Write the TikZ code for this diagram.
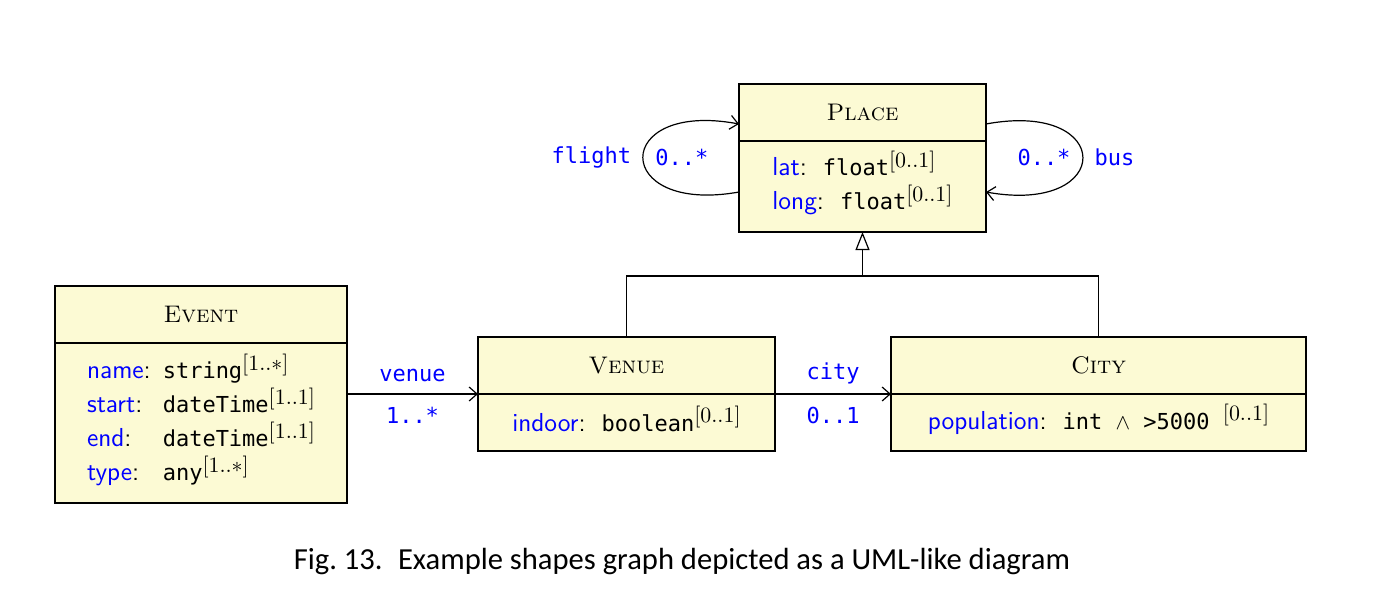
\documentclass[tikz,border=0pt]{standalone}
\usepackage{amsmath}
\usepackage{amssymb}
\usepackage{fontspec}
\setmonofont{DejaVu Sans Mono}
\newfontfamily\capfont{Carlito}
\usepackage{xcolor}
\usetikzlibrary{arrows.meta,positioning}
\definecolor{umlyellow}{RGB}{252,250,212}
\tikzstyle{arr}=[-{Straight Barb[length=4pt,width=7pt]}]
\tikzstyle{gen}=[-{Triangle[open,length=9pt,width=7pt,fill=white]}]
\tikzstyle{classhead}=[draw,fill=umlyellow,inner sep=0pt,outer sep=0pt,
  minimum height=28.5pt,font=\fontsize{12}{14}\selectfont]
\tikzstyle{classbody}=[draw,fill=umlyellow,inner sep=0pt,outer sep=0pt,
  align=left,font=\fontsize{11}{17}\selectfont]
\tikzstyle{role}=[text=blue,font=\ttfamily\fontsize{11}{13}\selectfont]
\newcommand\attr[1]{{\sffamily\fontsize{13}{17}\selectfont\textcolor{blue}{#1}:}}
\newcommand\dtype[1]{\texttt{#1}}
\newcommand\mult[1]{\raisebox{4.3pt}[0pt][0pt]{\fontsize{11.2}{12}\selectfont$[#1]$}}
\newcommand\gap{\hspace{8pt}}

\begin{document}
\begin{tikzpicture}[x=0.5pt,y=-0.5pt,semithick]
\useasboundingbox (0,0) rectangle (1376,607);
% classes
\node[classhead,minimum width=123.5pt,anchor=north west] (placehead)
  at (739,84) {\textsc{Place}};
\node[classbody,minimum width=123.5pt,minimum height=45.5pt,
  below=0pt of placehead] (placebody)
  {\attr{lat}\gap\dtype{float}\mult{0..1}\\
   \attr{long}\gap\dtype{float}\mult{0..1}};
\node[classhead,minimum width=146pt,anchor=north west] (eventhead)
  at (55,286) {\textsc{Event}};
\node[classbody,minimum width=146pt,minimum height=80pt,
  below=0pt of eventhead] (eventbody)
  {\begin{tabular}{@{}l@{\hspace{6pt}}l@{}}
   \attr{name}  & \dtype{string}\mult{1..*}\\
   \attr{start} & \dtype{dateTime}\mult{1..1}\\
   \attr{end}   & \dtype{dateTime}\mult{1..1}\\
   \attr{type}  & \dtype{any}\mult{1..*}
   \end{tabular}};
\node[classhead,minimum width=148.5pt,anchor=north west] (venuehead)
  at (478,337) {\textsc{Venue}};
\node[classbody,minimum width=148.5pt,minimum height=28.5pt,
  below=0pt of venuehead] (venuebody)
  {\attr{indoor}\gap\dtype{boolean}\mult{0..1}};
\node[classhead,minimum width=207.5pt,anchor=north west] (cityhead)
  at (891,337) {\textsc{City}};
\node[classbody,minimum width=207.5pt,minimum height=28.5pt,
  below=0pt of cityhead] (citybody)
  {\attr{population}\gap\dtype{int $\wedge$ >5000\ }\mult{0..1}};
% associations
\draw[arr] (eventbody.north east |- venuehead.south west)
  -- node[role,above=2.3pt] {venue} node[role,below=2.8pt] {1..*}
  (venuehead.south west);
\draw[arr] (venuehead.south east)
  -- node[role,above=1.3pt] {city} node[role,below=2.8pt] {0..1}
  (cityhead.south west);
\draw[arr] ([yshift=-2.75pt]placebody.west)
  .. controls +(-128,23) and +(-128,-24) ..
  node[role,pos=.5,left=2.3pt] {flight} node[role,pos=.5,right=2.5pt] {0..*}
  ([yshift=-5.75pt]placehead.west);
\draw[arr] ([yshift=-5.75pt]placehead.east)
  .. controls +(129,-24) and +(129,23) ..
  node[role,pos=.5,left=2.5pt] {0..*} node[role,pos=.5,right=2.3pt] {bus}
  ([yshift=-2.75pt]placebody.east);
% generalisation
\coordinate[below=22pt of placebody.south] (genjoin);
\draw (venuehead.north) |- (genjoin) -| (cityhead.north);
\draw[gen] (genjoin) -- (placebody.south);
% caption
\node[font=\capfont\fontsize{15.3}{17}\selectfont] (caption) at (682,561)
  {Fig.~13.\enspace Example shapes graph depicted as a UML-like diagram};
\end{tikzpicture}
\end{document}
